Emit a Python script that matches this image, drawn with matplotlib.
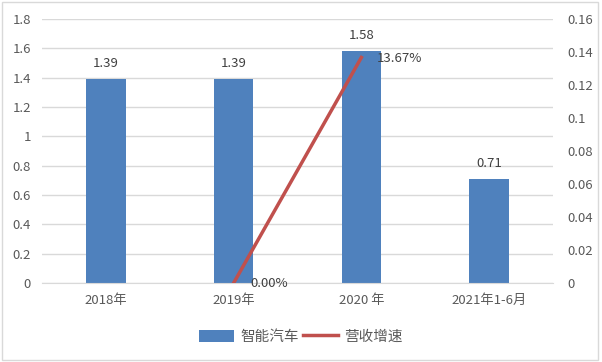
import matplotlib
matplotlib.use("Agg")
import matplotlib.pyplot as plt
from matplotlib.patches import Rectangle

plt.rcParams['font.family'] = ['Noto Sans CJK SC', 'DejaVu Sans']

categories = ['2018年', '2019年', '2020 年', '2021年1-6月']
revenue = [1.39, 1.39, 1.58, 0.71]
growth_x = [1, 2]
growth = [0.0, 0.1367]
growth_labels = ['0.00%', '13.67%']
left_ticks = [0, 0.2, 0.4, 0.6, 0.8, 1, 1.2, 1.4, 1.6, 1.8]
right_ticks = [0, 0.02, 0.04, 0.06, 0.08, 0.1, 0.12, 0.14, 0.16]

bar_color = '#4f81bd'
line_color = '#c0504d'
text_color = '#595959'
grid_color = '#d9d9d9'

fig = plt.figure(figsize=(6.02, 3.62), dpi=100)
ax = fig.add_axes([0.0698, 0.2182, 0.8488, 0.7293])
ax2 = ax.twinx()

x = list(range(len(categories)))
bars = ax.bar(x, revenue, width=0.31, color=bar_color, label='智能汽车', zorder=2)
for xi, v in zip(x, revenue):
    ax.text(xi, v + 0.06, f'{v:.2f}', ha='center', va='bottom', fontsize=9.5, color='#404040')

ax.set_xlim(-0.5, 3.5)
ax.set_ylim(0, 1.8)
ax.set_yticks(left_ticks)
ax.set_yticklabels([f'{t:g}' for t in left_ticks])
ax.set_xticks(x)
ax.set_xticklabels(categories)
ax.yaxis.grid(True, color=grid_color, linewidth=1, zorder=0)
ax.set_axisbelow(True)
for s in ['top', 'left', 'right']:
    ax.spines[s].set_visible(False)
ax.spines['bottom'].set_color(grid_color)
ax.tick_params(axis='both', length=0, labelsize=9.5, colors=text_color, pad=8)

line, = ax2.plot(growth_x, growth, color=line_color, linewidth=2.5, label='营收增速', zorder=3)
ax2.text(growth_x[0] + 0.13, growth[0] - 0.0005, growth_labels[0], ha='left', va='center', fontsize=9.5, color='#404040')
ax2.text(growth_x[1] + 0.12, growth[1] - 0.0005, growth_labels[1], ha='left', va='center', fontsize=9.5, color='#404040')
ax2.set_ylim(0, 0.16)
ax2.set_yticks(right_ticks)
ax2.set_yticklabels([f'{t:g}' for t in right_ticks])
for s in ax2.spines.values():
    s.set_visible(False)
ax2.tick_params(axis='y', length=0, labelsize=9.5, colors=text_color, pad=10)

fig.legend(handles=[bars, line], loc='center', bbox_to_anchor=(0.5, 0.07), ncol=2,
           frameon=False, fontsize=10.5, labelcolor=text_color, handlelength=2.4,
           handleheight=0.9, columnspacing=0.3, handletextpad=0.4)

fig.patches.append(Rectangle((0.004, 0.006), 0.99, 0.988, transform=fig.transFigure,
                             fill=False, edgecolor='#d9d9d9', linewidth=1))

fig.savefig('out.png', dpi=100, facecolor='white')
